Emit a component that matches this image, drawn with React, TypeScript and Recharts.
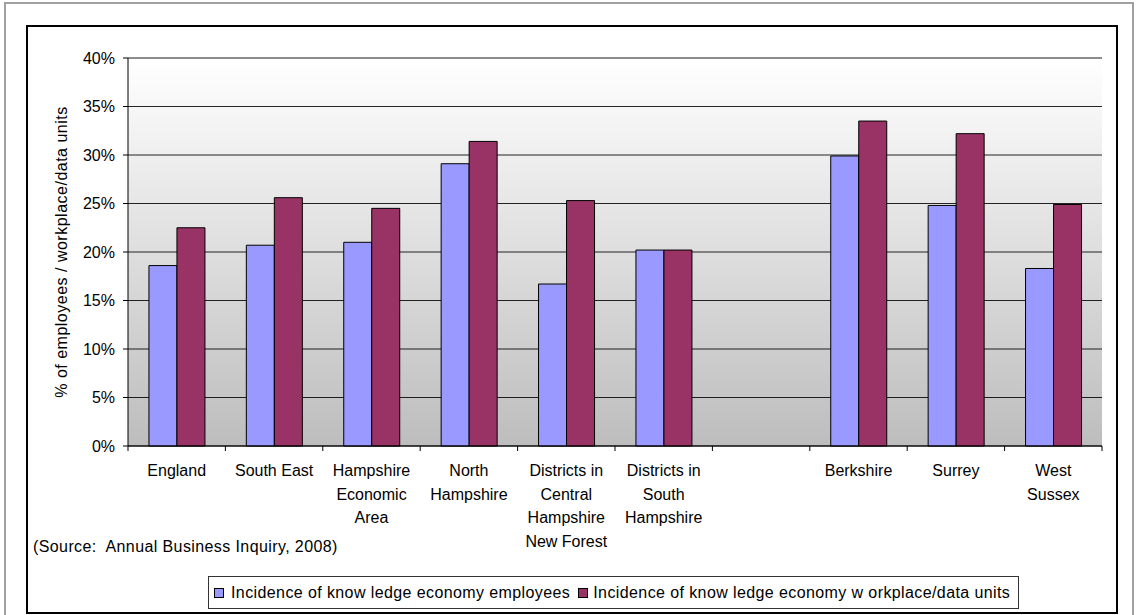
import React from 'react';
import { BarChart, Bar, XAxis, YAxis, CartesianGrid, Legend, ReferenceLine } from 'recharts';

const categories = [
  'England',
  'South East',
  'Hampshire Economic Area',
  'North Hampshire',
  'Districts in Central Hampshire New Forest',
  'Districts in South Hampshire',
  '',
  'Berkshire',
  'Surrey',
  'West Sussex',
];
const tickLines = [
  ['England'],
  ['South East'],
  ['Hampshire', 'Economic', 'Area'],
  ['North', 'Hampshire'],
  ['Districts in', 'Central', 'Hampshire', 'New Forest'],
  ['Districts in', 'South', 'Hampshire'],
  [],
  ['Berkshire'],
  ['Surrey'],
  ['West', 'Sussex'],
];
const employees = [18.6, 20.7, 21.0, 29.1, 16.7, 20.2, null, 29.9, 24.8, 18.3];
const workplaces = [22.5, 25.6, 24.5, 31.4, 25.3, 20.2, null, 33.5, 32.2, 24.9];
const yTicks = [0, 5, 10, 15, 20, 25, 30, 35, 40];
const seriesNames = [
  'Incidence of know ledge economy employees',
  'Incidence of know ledge economy w orkplace/data units',
];
const seriesColors = ['#9999FF', '#993366'];
const yLabel = '% of employees / workplace/data units';
const sourceText = '(Source:  Annual Business Inquiry, 2008)';

const data = categories.map((c, i) => ({ name: c, employees: employees[i], workplaces: workplaces[i] }));

const FONT = '"Liberation Sans", Arial, sans-serif';

const CategoryTick = (props: any) => {
  const { x, y, payload } = props;
  const idx = categories.indexOf(payload.value);
  const half = payload.offset ?? 48.7;
  const lines = tickLines[idx] ?? [];
  return (
    <g>
      <line x1={x - half} x2={x - half} y1={y} y2={y + 5} stroke="#000" />
      {idx === categories.length - 1 && <line x1={x + half} x2={x + half} y1={y} y2={y + 5} stroke="#000" />}
      <text x={x} y={y + 30} textAnchor="middle" fontSize={16} fontFamily={FONT} fill="#000">
        {lines.map((l, k) => (
          <tspan key={k} x={x} dy={k === 0 ? 0 : 23.5}>
            {l}
          </tspan>
        ))}
      </text>
    </g>
  );
};

const LegendBox = () => (
  <div
    style={{
      boxSizing: 'border-box',
      width: '100%',
      height: '100%',
      border: '1px solid #333',
      background: '#fff',
      display: 'flex',
      alignItems: 'center',
      fontFamily: FONT,
      fontSize: 16,
      letterSpacing: 0.4,
      color: '#000',
      whiteSpace: 'nowrap',
      paddingLeft: 5,
    }}
  >
    {seriesNames.map((n, i) => (
      <span key={i} style={{ display: 'flex', alignItems: 'center', marginRight: 8 }}>
        <span
          style={{
            display: 'inline-block',
            boxSizing: 'border-box',
            width: 10,
            height: 10,
            background: seriesColors[i],
            border: '1px solid #000',
            marginRight: i === 0 ? 7 : 5,
          }}
        />
        <span>{n}</span>
      </span>
    ))}
  </div>
);

export default function App() {
  return (
    <div style={{ position: 'absolute', left: 0, top: 0, width: 1136, height: 615, background: '#fff', overflow: 'hidden' }}>
      <div style={{ position: 'absolute', left: 4, top: 2, width: 1130, height: 640, border: '2px solid #a0a0a0', boxSizing: 'border-box' }} />
      <div style={{ position: 'absolute', left: 26, top: 25, width: 1092, height: 589, border: '2px solid #000', boxSizing: 'border-box' }} />
      <div style={{ position: 'absolute', left: 0, top: 0 }}>
        <BarChart
          width={1136}
          height={615}
          data={data}
          margin={{ top: 58, right: 34, bottom: 0, left: 60 }}
          barCategoryGap="21.5%"
          barGap={0}
        >
          <defs>
            <linearGradient id="plotBg" x1="0" y1="0" x2="0" y2="1">
              <stop offset="0%" stopColor="#ffffff" />
              <stop offset="100%" stopColor="#bdbdbd" />
            </linearGradient>
          </defs>
          <CartesianGrid vertical={false} stroke="#000" strokeOpacity={0.85} fill="url(#plotBg)" fillOpacity={1} />
          <XAxis
            dataKey="name"
            type="category"
            height={169}
            tickLine={false}
            tickSize={0}
            tickMargin={0}
            axisLine={{ stroke: '#000' }}
            interval={0}
            tick={<CategoryTick />}
          />
          <YAxis
            domain={[0, 40]}
            ticks={yTicks}
            width={68}
            tickSize={5}
            tickMargin={8}
            tickFormatter={(v: number) => `${v}%`}
            tick={{ fontSize: 16, fontFamily: FONT, fill: '#000' }}
            tickLine={{ stroke: '#000' }}
            axisLine={{ stroke: '#000' }}
            label={{
              value: yLabel,
              angle: -90,
              position: 'center',
              dx: -33,
              style: { fontSize: 16, fontFamily: FONT, fill: '#000', letterSpacing: 0.5 },
            }}
          />
          <YAxis
            yAxisId="r"
            orientation="right"
            domain={[0, 40]}
            width={0}
            tick={false}
            tickLine={false}
            axisLine={{ stroke: '#8c8c8c', strokeWidth: 2 }}
          />
          <ReferenceLine y={40} stroke="#8c8c8c" strokeWidth={2} />
          <Bar dataKey="employees" name={seriesNames[0]} fill={seriesColors[0]} stroke="#000" strokeWidth={1} isAnimationActive={false} />
          <Bar dataKey="workplaces" name={seriesNames[1]} fill={seriesColors[1]} stroke="#000" strokeWidth={1} isAnimationActive={false} />
          <Legend
            layout="horizontal"
            verticalAlign="middle"
            align="center"
            wrapperStyle={{ position: 'absolute', left: 208, top: 576, width: 811, height: 33 }}
            content={() => <LegendBox />}
          />
        </BarChart>
      </div>
      <div
        style={{
          position: 'absolute',
          left: 33,
          top: 538,
          fontFamily: FONT,
          fontSize: 16,
          letterSpacing: 0.4,
          color: '#000',
          whiteSpace: 'pre',
        }}
      >
        {sourceText}
      </div>
    </div>
  );
}
